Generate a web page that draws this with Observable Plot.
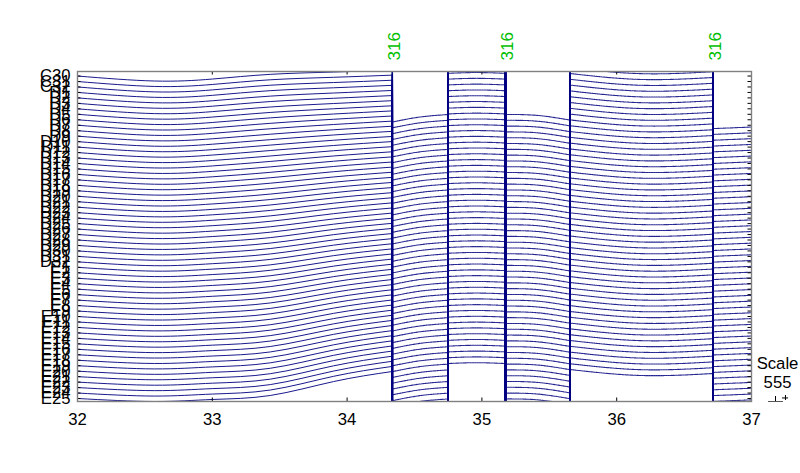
<!DOCTYPE html>
<html><head><meta charset="utf-8">
<script src="https://cdn.jsdelivr.net/npm/d3@7"></script>
<script src="https://cdn.jsdelivr.net/npm/@observablehq/plot@0.6"></script>
<style>html,body{margin:0;padding:0;background:#fff;} #chart{width:800px;height:473px;overflow:hidden;}</style>
</head><body><div id="chart"></div>
<script>
// ---- data ----
const channelNames = ["C30","C31","C32",
  "D1","D2","D3","D4","D5","D6","D7","D8","D9","D10","D11","D12","D13","D14","D15","D16",
  "D17","D18","D19","D20","D21","D22","D23","D24","D25","D26","D27","D28","D29","D30","D31","D32",
  "E1","E2","E3","E4","E5","E6","E7","E8","E9","E10","E11","E12","E13","E14","E15","E16",
  "E17","E18","E19","E20","E21","E22","E23","E24","E25"];
const xTicks = [32, 33, 34, 35, 36, 37];
const eventTimes = [34.335, 35.175, 36.713];
const eventLabels = ["316", "316", "316"];
const segmentStart = [32, 34.335, 34.75, 35.175, 35.652, 36.713];
const segmentEnd   = [34.335, 34.75, 35.175, 35.652, 36.713, 37];
// knot times inside each segment
const knotTimes = [
  [32, 32.57, 33.0, 33.43, 33.9, 34.335],
  [34.335, 34.54, 34.75],
  [34.75, 34.96, 35.175],
  [35.175, 35.41, 35.652],
  [35.652, 36.18, 36.713],
  [36.713, 37]
];
// trace offsets (in channel-spacing units) of the first channel (C30) at the knots
const firstChannelOffset = [
  [0, 0.91, 0.55, -0.31, -0.73, -1.10],
  [8.42, 7.50, 7.04],
  [-10.06, -10.2, -10.06],
  [7.04, 7.2, 8.05],
  [-8.97, -7.87, -8.23],
  [9.62, 9.33]
];
// trace offsets of the last channel (E25) at the knots
const lastChannelOffset = [
  [0, 0.55, 0.18, -0.55, -3.1, -4.94],
  [12.08, 11.16, 10.70],
  [-6.40, -6.55, -6.40],
  [10.70, 10.86, 11.71],
  [-5.31, -4.21, -4.57],
  [13.28, 12.99]
];
const scaleTitle = "Scale";
const scaleValue = "555";

// ---- build table ----
const n = channelNames.length;
const offsetAt = (s, k, i) => firstChannelOffset[s][k] + (lastChannelOffset[s][k] - firstChannelOffset[s][k]) * i / (n - 1);
const rows = [];
knotTimes.forEach((ts, s) => {
  for (let i = 0; i < n; i++) {
    ts.forEach((t, k) => rows.push({t, y: i + offsetAt(s, k, i), ch: i, seg: s}));
  }
});
const jumps = [];
for (let s = 1; s < knotTimes.length; s++) {
  const kEnd = knotTimes[s - 1].length - 1;
  for (let i = 0; i < n; i++) {
    jumps.push({t: segmentStart[s], y1: i + offsetAt(s - 1, kEnd, i), y2: i + offsetAt(s, 0, i)});
  }
}
const chIdx = channelNames.map((d, i) => i);

const yTop = -0.83, yBottom = 59.55;
const font = "'Liberation Sans', Arial, Helvetica, sans-serif";
const navy = "#000080";

const chart = Plot.plot({
  width: 800, height: 473,
  marginTop: 71, marginBottom: 72, marginLeft: 77, marginRight: 49,
  style: {fontSize: "16.7px", fontFamily: font, background: "#fff", color: "#000"},
  x: {domain: [32, 37], ticks: xTicks, tickFormat: d => String(d), tickSize: 0, tickPadding: 12, label: null},
  y: {domain: [yBottom, yTop], ticks: chIdx, tickFormat: i => channelNames[i], tickSize: 0, tickPadding: 7, label: null},
  marks: [
    Plot.ruleX(eventTimes, {x: d => d, y1: yTop, y2: yBottom, stroke: "#00c000", strokeWidth: 1}),
    Plot.line(rows.filter(d => d.seg === 0), {x: "t", y: "y", z: d => d.ch, curve: "natural", stroke: navy, strokeWidth: 1, strokeOpacity: 0.9, clip: true}),
    Plot.line(rows.filter(d => d.seg > 0), {x: "t", y: "y", z: d => d.seg * 1000 + d.ch, curve: "natural", stroke: navy, strokeWidth: 1.1, strokeDasharray: "1.6,0.8", strokeOpacity: 0.85, clip: true}),
    Plot.ruleX(jumps, {x: "t", y1: "y1", y2: "y2", stroke: navy, strokeWidth: 1.6, clip: true}),
    Plot.ruleY(chIdx, {y: d => d, x1: 32, x2: 32 + 3.5 / 134.8, stroke: "#000"}),
    Plot.ruleY(chIdx, {y: d => d, x1: 37 - 3.5 / 134.8, x2: 37, stroke: "#000"}),
    Plot.ruleX(xTicks, {x: d => d, y1: yTop, y2: yTop + 3.5 / 5.465, stroke: "#000"}),
    Plot.ruleX(xTicks, {x: d => d, y1: yBottom - 3.5 / 5.465, y2: yBottom, stroke: "#000"}),
    Plot.frame({stroke: "#808080", strokeWidth: 1.4}),
    Plot.text(eventTimes, {x: d => d + 0.017, y: () => -2.84, text: (d, i) => eventLabels[i], rotate: -90, textAnchor: "start", fill: "#00c000", fontSize: 17}),
    Plot.text([scaleTitle], {x: () => 37.193, y: () => 52.6, text: d => d, fill: "#000", fontSize: 16.7}),
    Plot.text([scaleValue], {x: () => 37.193, y: () => 56.07, text: d => d, fill: "#000", fontSize: 16.7}),
    Plot.ruleY([0], {y: () => yBottom, x1: 37.126, x2: 37.237, stroke: "#555"}),
    Plot.ruleX([0], {x: () => 37.178, y1: 58.64, y2: yBottom, stroke: "#000"}),
    Plot.ruleY([0], {y: () => 58.9, x1: 37.230, x2: 37.275, stroke: "#000"}),
    Plot.ruleX([0], {x: () => 37.252, y1: 58.45, y2: 59.37, stroke: "#000"})
  ]
});
document.getElementById("chart").appendChild(chart);
</script>
</body></html>
